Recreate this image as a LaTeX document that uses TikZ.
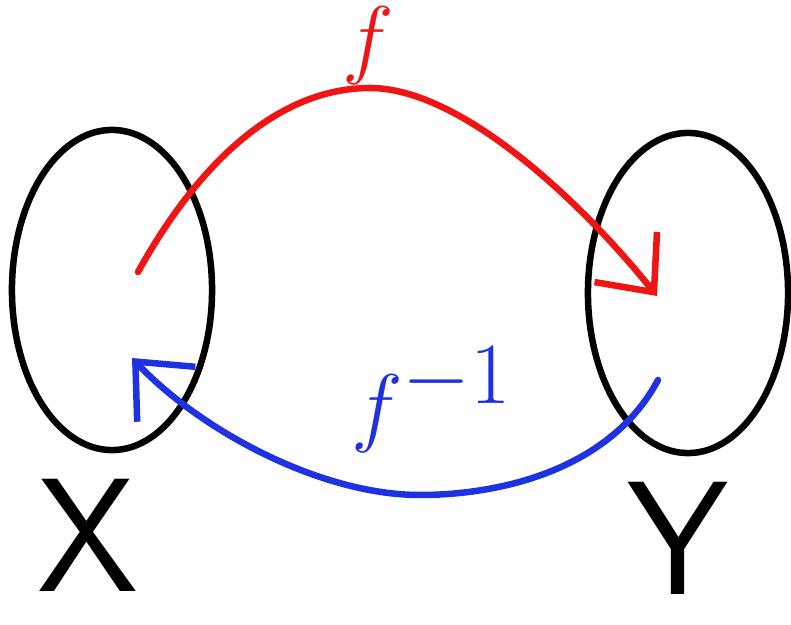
\documentclass[tikz,border=0pt]{standalone}
\usepackage{amsmath}
\usepackage{xcolor}
\usetikzlibrary{arrows.meta, positioning, shapes.geometric}

\definecolor{mapred}{RGB}{240,20,20}
\definecolor{mapblue}{RGB}{30,50,225}

\begin{document}
\begin{tikzpicture}[
        x=0.01cm,
        y=-0.01cm,
        >={Straight Barb[length=4.5mm, width=8mm]},
        pen/.style={
            line width=0.065cm,
            line cap=round,
            line join=round
        },
        set/.style={
            ellipse,
            draw,
            pen,
            minimum width=2.0cm,
            minimum height=3.2cm
        },
        setname/.style={
            font=\sffamily\fontsize{46}{50}\selectfont,
            inner sep=0pt
        }
    ]
    \useasboundingbox (0,0) rectangle (791,625);

    % Nodes
    \node[set] (X set) at (112,290) {};
    \node[set] (Y set) at (688,293) {};
    \node[setname] (X name) at (88,535) {X};
    \node[setname] (Y name) at (678,538) {Y};
    \node[text=mapred, font=\fontsize{26}{30}\selectfont] (f label) at (368,46) {$f$};
    \node[text=mapblue, font=\fontsize{46}{50}\selectfont] (finv label) at (432,400) {$f^{-1}$};

    \coordinate (x start) at (138,272);
    \coordinate (y end) at (657,296);
    \coordinate (y start) at (658,380);
    \coordinate (x end) at (132,358);

    % Arrows
    \draw[pen, mapred, ->] (x start) .. controls (200,160) and (280,88) .. (370,88)
        .. controls (460,88) and (580,200) .. (y end);
    \draw[pen, mapblue, ->] (y start) .. controls (610,470) and (500,495) .. (420,495)
        .. controls (320,495) and (200,430) .. (x end);

\end{tikzpicture}
\end{document}
